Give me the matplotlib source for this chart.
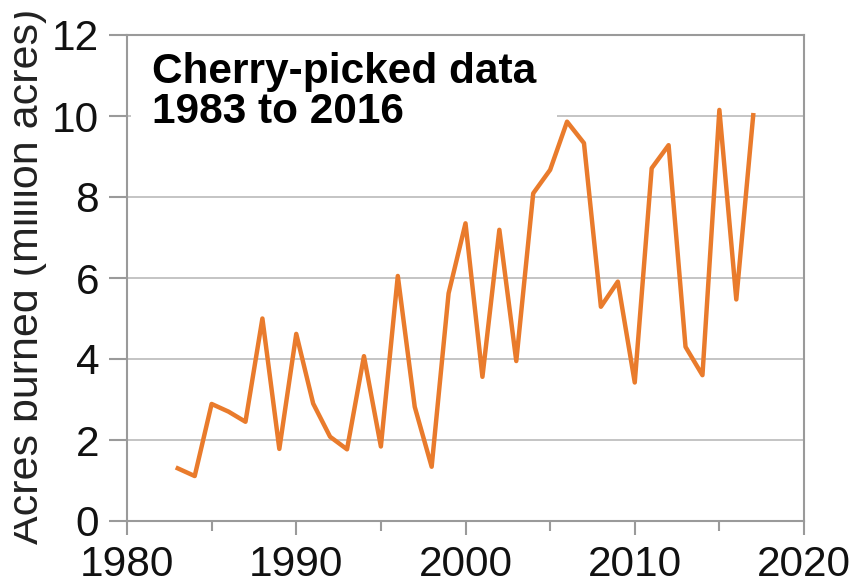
import matplotlib.pyplot as plt
from matplotlib.patches import Rectangle

plt.rcParams['font.family'] = ['Liberation Sans', 'DejaVu Sans']

# Acres burned per year (million acres)
years = list(range(1983, 2018))
acres = [1.30, 1.11, 2.89, 2.70, 2.45, 5.00, 1.78, 4.62, 2.90, 2.08,
         1.77, 4.07, 1.84, 6.05, 2.82, 1.34, 5.62, 7.35, 3.56, 7.19,
         3.95, 8.09, 8.67, 9.86, 9.33, 5.29, 5.91, 3.42, 8.71, 9.28,
         4.30, 3.60, 10.15, 5.47, 10.02]

x_major = [1980, 1990, 2000, 2010, 2020]
x_minor = [1985, 1995, 2005, 2015]
y_ticks = [0, 2, 4, 6, 8, 10, 12]

W, H = 856, 585
fig = plt.figure(figsize=(W / 100, H / 100), dpi=100)
ax = fig.add_axes([127 / W, (H - 521) / H, (804 - 127) / W, (521 - 35) / H])

ax.plot(years, acres, color='#E97B2C', linewidth=3.2, zorder=3)

ax.set_xlim(1980, 2020)
ax.set_ylim(0, 12)
ax.set_xticks(x_major)
ax.set_xticks(x_minor, minor=True)
ax.set_yticks(y_ticks)

ax.grid(axis='y', color='#C4C4C4', linewidth=1.4, zorder=1)
for s in ax.spines.values():
    s.set_color('#9A9A9A')
    s.set_linewidth(1.5)

ax.tick_params(axis='both', which='major', labelsize=30.5, labelcolor='#111111',
               color='#9A9A9A', width=1.5, direction='out')
ax.tick_params(axis='y', length=13, pad=7)
ax.tick_params(axis='x', which='major', length=10, pad=7)
ax.tick_params(axis='x', which='minor', length=7, width=1.5, color='#9A9A9A')

# y label, its top cut off by the left edge as in the original
fig.text(38 / W, 1 - 276 / H, 'Acres burned (million acres)', rotation=90,
         rotation_mode='anchor', ha='center', va='baseline',
         fontsize=31, color='#222222')
fig.patches.append(Rectangle((0, 0), 14 / W, 1, transform=fig.transFigure,
                             facecolor='white', edgecolor='none', zorder=10))

# annotation box hiding the gridline underneath
ax.text((152 - 127) / (804 - 127), (521 - 123) / (521 - 35),
        'Cherry-picked data\n1983 to 2016', transform=ax.transAxes,
        ha='left', va='baseline', fontsize=30.5, fontweight='bold',
        color='black', linespacing=1.0, zorder=2,
        bbox=dict(boxstyle='square,pad=0.5', facecolor='white', edgecolor='none'))

fig.savefig('out.png', dpi=100)
